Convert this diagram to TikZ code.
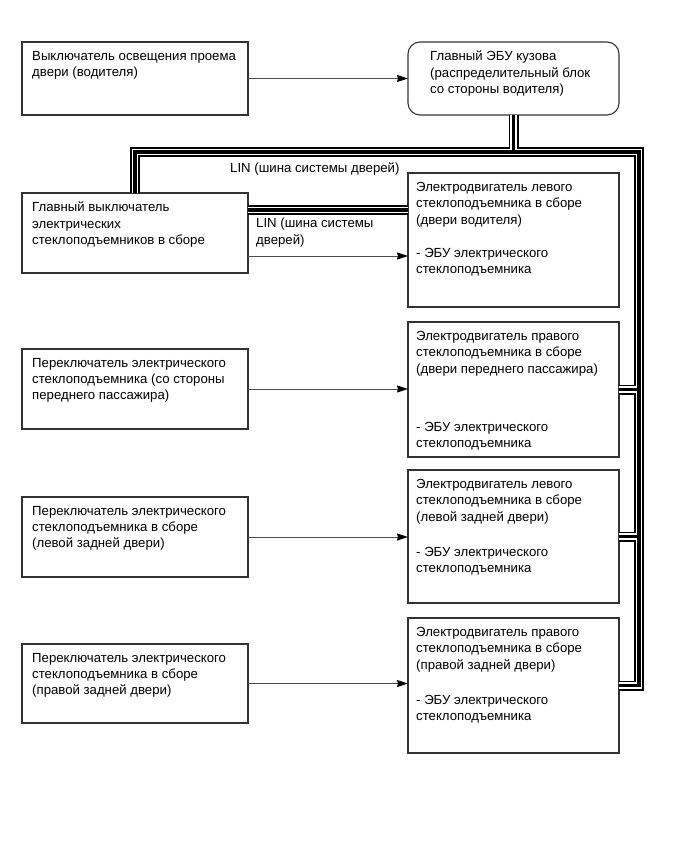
\documentclass[tikz,border=0pt]{standalone}
\usepackage{fontspec}
\setmainfont{Liberation Sans}
\usepackage{tikz}
\usetikzlibrary{arrows.meta, positioning, calc}

\begin{document}
\begin{tikzpicture}[x=1pt, y=1pt, >=Stealth,
  unit/.style={draw=black!80, line width=1.1pt, anchor=north west, inner sep=0pt, outer sep=0pt,
    minimum width=226pt, minimum height=80pt},
  motor/.style={unit, minimum width=211pt, minimum height=134pt},
  ecubox/.style={unit, minimum width=211pt, minimum height=73pt, rounded corners=12pt},
  lbl/.style={anchor=north west, inner sep=0pt, align=left, font=\fontsize{13.2}{16.3}\selectfont},
  sig/.style={-{Stealth[length=11pt, width=7pt, inset=1pt, color=black]}, draw=black!70, line width=1pt},
  bus/.style={line join=miter}
]
  \useasboundingbox (0,0) rectangle (689,-853);

  \node[unit, minimum height=73pt] (lampsw) at (22,-42) {};
  \node[ecubox] (ecu) at (408,-42) {};
  \node[unit] (mainsw) at (22,-193) {};
  \node[motor] (motfl) at (408,-173) {};
  \node[unit] (swfr) at (22,-349) {};
  \node[motor, minimum height=135pt] (motfr) at (408,-322) {};
  \node[unit] (swrl) at (22,-497) {};
  \node[motor, minimum height=133pt] (motrl) at (408,-470) {};
  \node[unit, minimum height=79pt] (swrr) at (22,-644) {};
  \node[motor, minimum height=135pt] (motrr) at (408,-618) {};

  \node[lbl] (lampswT) at ([shift={(10,-9)}]lampsw.north west)
    {Выключатель освещения проема\\двери (водителя)};
  \node[lbl] (ecuT) at ([shift={(22,-9)}]ecu.north west)
    {Главный ЭБУ кузова\\(распределительный блок\\со стороны водителя)};
  \node[lbl] (mainswT) at ([shift={(10,-9)}]mainsw.north west)
    {Главный выключатель\\электрических\\стеклоподъемников в сборе};
  \node[lbl] (motflT) at ([shift={(8,-9)}]motfl.north west)
    {Электродвигатель левого\\стеклоподъемника в сборе\\(двери водителя)\\[17pt]- ЭБУ электрического\\стеклоподъемника};
  \node[lbl] (swfrT) at ([shift={(10,-9)}]swfr.north west)
    {Переключатель электрического\\стеклоподъемника (со стороны\\переднего пассажира)};
  \node[lbl] (motfrT) at ([shift={(8,-9)}]motfr.north west)
    {Электродвигатель правого\\стеклоподъемника в сборе\\(двери переднего пассажира)\\[42pt]- ЭБУ электрического\\стеклоподъемника};
  \node[lbl] (swrlT) at ([shift={(10,-9)}]swrl.north west)
    {Переключатель электрического\\стеклоподъемника в сборе\\(левой задней двери)};
  \node[lbl] (motrlT) at ([shift={(8,-9)}]motrl.north west)
    {Электродвигатель левого\\стеклоподъемника в сборе\\(левой задней двери)\\[19pt]- ЭБУ электрического\\стеклоподъемника};
  \node[lbl] (swrrT) at ([shift={(10,-9)}]swrr.north west)
    {Переключатель электрического\\стеклоподъемника в сборе\\(правой задней двери)};
  \node[lbl] (motrrT) at ([shift={(8,-9)}]motrr.north west)
    {Электродвигатель правого\\стеклоподъемника в сборе\\(правой задней двери)\\[19pt]- ЭБУ электрического\\стеклоподъемника};

  \node[lbl] (lin1) at (230,-163) {LIN (шина системы дверей)};
  \node[lbl] (lin2) at (256,-218) {LIN (шина системы\\дверей)};

  \coordinate (busL) at (135,-152);
  \coordinate (busR) at (639,-152);
  \foreach \w/\c in {10/black, 6.2/white, 3.2/black} {
    \draw[bus, line width=\w, draw=\c] (ecu.south) -- (ecu.south |- busL);
    \draw[bus, line width=\w, draw=\c] (busL |- mainsw.north) -- (busL) -- (busR)
      -- (busR |- motrr.east) -- (motrr.east);
    \draw[bus, line width=\w, draw=\c] (motfr.east) -- (motfr.east -| busR);
    \draw[bus, line width=\w, draw=\c] (motrl.east) -- (motrl.east -| busR);
    \draw[bus, line width=\w, draw=\c] ([yshift=23pt]mainsw.east) -- ([yshift=23pt]mainsw.east -| motfl.west);
  }

  \draw[sig] (lampsw.east) -- (ecu.west);
  \draw[sig] ([yshift=-23pt]mainsw.east) -- ([yshift=-23pt]mainsw.east -| motfl.west);
  \draw[sig] (swfr.east) -- (swfr.east -| motfr.west);
  \draw[sig] (swrl.east) -- (swrl.east -| motrl.west);
  \draw[sig] (swrr.east) -- (swrr.east -| motrr.west);
\end{tikzpicture}
\end{document}
